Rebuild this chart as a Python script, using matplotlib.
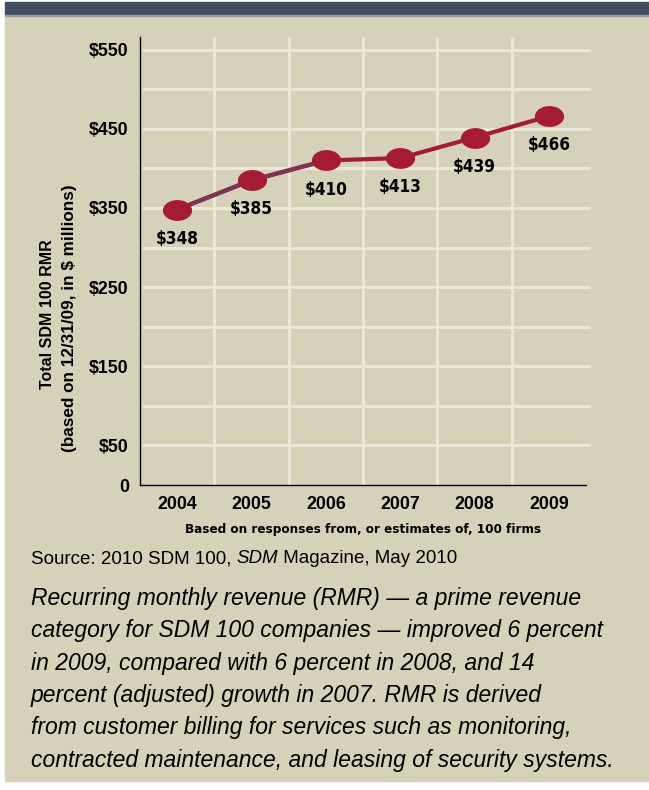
import numpy as np
import matplotlib
matplotlib.use('Agg')
import matplotlib.pyplot as plt
from matplotlib.path import Path
from matplotlib.patches import Rectangle
from matplotlib import font_manager

years = ['2004', '2005', '2006', '2007', '2008', '2009']
rmr = [348, 385, 410, 413, 439, 466]
value_labels = ['$348', '$385', '$410', '$413', '$439', '$466']
ytick_vals = [0, 50, 150, 250, 350, 450, 550]
ytick_labels = ['0', '$50', '$150', '$250', '$350', '$450', '$550']
grid_vals = [50, 100, 150, 200, 250, 300, 350, 400, 450, 500, 550]

BG = '#d6d1b9'
GRID = '#ece8d7'
RED = '#a51b33'
PURPLE = '#7c3457'
BAR = '#414d61'

W, H = 649, 790
fig = plt.figure(figsize=(W / 100, H / 100), dpi=100, facecolor='white')

def fx(px):
    return px / W

def fy(py):
    return 1 - py / H

# condensed bold face if one is around, else plain bold
cond_files = [f.fname for f in font_manager.fontManager.ttflist
              if f.stretch in ('condensed', 'semi-condensed') and f.weight in (600, 700, 'bold')]
if cond_files:
    narrow = dict(fontproperties=font_manager.FontProperties(fname=cond_files[0]))
    NARROW_OK = True
else:
    narrow = dict(family=['Liberation Sans', 'DejaVu Sans'], weight='bold')
    NARROW_OK = False
bold = dict(family=['Liberation Sans', 'DejaVu Sans'], weight='bold')

# panel background and top bar
fig.patches.append(Rectangle((fx(5), fy(781)), fx(W - 5), (781 - 15) / H,
                             transform=fig.transFigure, color=BG, zorder=-3))
fig.patches.append(Rectangle((fx(5), fy(15)), fx(W - 5), 13 / H,
                             transform=fig.transFigure, color=BAR, zorder=-2))
fig.patches.append(Rectangle((fx(5), fy(16)), fx(W - 5), 1 / H,
                             transform=fig.transFigure, color='#9a9e9c', zorder=-2))

ax = fig.add_axes([fx(140), fy(485), fx(586 - 140), (485 - 37) / H])
ax.set_facecolor('none')
x = np.arange(len(years))
ax.set_xlim(-0.5, len(years) - 0.5)
ax.set_ylim(0, 566)

ax.hlines(grid_vals, -0.47, len(years) - 0.45, color=GRID, lw=2.2, zorder=1, clip_on=False)
ax.vlines(x[:-1] + 0.5, 0, 566, color=GRID, lw=2.2, zorder=1)

for s in ['top', 'right']:
    ax.spines[s].set_visible(False)
for s in ['left', 'bottom']:
    ax.spines[s].set_linewidth(1.0)
    ax.spines[s].set_color('black')
    ax.spines[s].set_zorder(3)

ax.set_yticks(ytick_vals)
ax.set_yticklabels(ytick_labels, fontsize=12.8, **bold)
ax.set_xticks(x)
ax.set_xticklabels(years, fontsize=12.8, **bold)
ax.tick_params(length=0, pad=8)
ax.tick_params(axis='x', pad=8)

lab_size = 9.6 if NARROW_OK else 9.2
ax.set_xlabel('Based on responses from, or estimates of, 100 firms', fontsize=lab_size,
              labelpad=7, **narrow)

# line, first segments in purple tone
ax.plot(x, rmr, color=RED, lw=3, zorder=4, solid_capstyle='round')
ax.plot(x[:3], rmr[:3], color=PURPLE, lw=3, zorder=4, solid_capstyle='round')

t = np.linspace(0, 2 * np.pi, 60)
ellipse = Path(np.column_stack([np.cos(t), 0.7 * np.sin(t)]), closed=True)
ax.plot(x, rmr, ls='none', marker=ellipse, markersize=20, color=RED, zorder=5)

val_size = 12.3 if NARROW_OK else 11.5
for xi, v, lab in zip(x, rmr, value_labels):
    ax.annotate(lab, (xi, v), xytext=(0, -21), textcoords='offset points',
                ha='center', va='center', fontsize=val_size, zorder=6, **narrow)

fig.text(fx(48), fy(314), 'Total SDM 100 RMR', rotation=90, ha='center', va='center',
         fontsize=11.5, **bold)
fig.text(fx(70), fy(318), '(based on 12/31/09, in $ millions)', rotation=90,
         ha='center', va='center', fontsize=12.3, **bold)

# source line with italic SDM
reg = ['Liberation Sans', 'DejaVu Sans']
fig.canvas.draw()
renderer = fig.canvas.get_renderer()
sx, sy = fx(31), fy(563)
t1 = fig.text(sx, sy, 'Source: 2010 SDM 100, ', fontsize=13.5, family=reg, va='baseline')
w1 = t1.get_window_extent(renderer).width / W
t2 = fig.text(sx + w1, sy, 'SDM', fontsize=13.5, family=reg, style='italic', va='baseline')
w2 = t2.get_window_extent(renderer).width / W
fig.text(sx + w1 + w2, sy, ' Magazine, May 2010', fontsize=13.5, family=reg, va='baseline')

para = ('Recurring monthly revenue (RMR) \u2014 a prime revenue\n'
        'category for SDM 100 companies \u2014 improved 6 percent\n'
        'in 2009, compared with 6 percent in 2008, and 14\n'
        'percent (adjusted) growth in 2007. RMR is derived\n'
        'from customer billing for services such as monitoring,\n'
        'contracted maintenance, and leasing of security systems.')
fig.text(fx(31), fy(587), para, fontsize=16.5, family=reg, style='italic',
         va='top', ha='left', linespacing=1.52)

fig.savefig('out.png', dpi=100, facecolor='white')
